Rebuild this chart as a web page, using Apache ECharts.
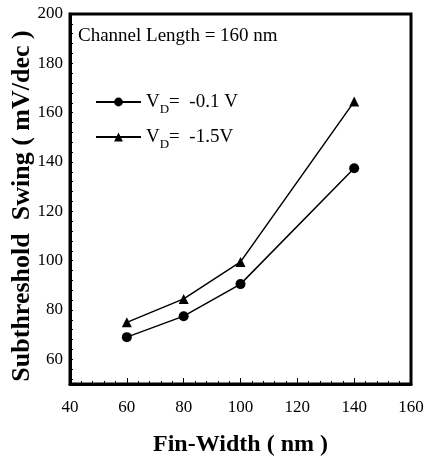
<!DOCTYPE html>
<html>
<head>
<meta charset="utf-8">
<script src="https://cdn.jsdelivr.net/npm/echarts@6/dist/echarts.min.js"></script>
<style>
  html, body { margin: 0; padding: 0; background: #fff; }
  #chart { width: 428px; height: 459px; }
</style>
</head>
<body>
<div id="chart"></div>
<script>
// subthreshold swing vs fin width

var finWidth = [60, 80, 100, 140];
var swingLowVd = [69, 77.5, 90.5, 137.5];   // VD = -0.1 V
var swingHighVd = [75, 84.5, 99.5, 164.5];  // VD = -1.5 V
var seriesNames = ['VD= -0.1 V', 'VD= -1.5V'];
var legendText = {
    'VD= -0.1 V': '=  -0.1 V',
    'VD= -1.5V': '=  -1.5V'
};

var serif = 'Liberation Serif';

function pairs(xs, ys) {
    return xs.map(function (x, i) { return [x, ys[i]]; });
}

var myChart = echarts.init(document.getElementById('chart'));

// plot spans y 50..200 over 370px; second grid starts at 52 so minor ticks fall on 52,56,...,200
var plotH = 459 - 14 - 75;
var tickGridBottom = 75 + 2 * plotH / 150;

var option = {
    animation: false,
    backgroundColor: '#fff',
    title: {
        text: 'Channel Length = 160 nm',
        left: 73,
        top: 22,
        textStyle: {
            fontFamily: serif,
            fontSize: 19,
            fontWeight: 'normal',
            color: '#000'
        }
    },
    legend: {
        orient: 'vertical',
        left: 90,
        top: 88,
        itemWidth: 45,
        itemHeight: 11,
        itemGap: 12,
        data: seriesNames,
        formatter: function (name) {
            return '{v|V}{sub|D}{v|' + legendText[name] + '}';
        },
        textStyle: {
            fontFamily: serif,
            color: '#000',
            rich: {
                v: { fontFamily: serif, fontSize: 19, color: '#000', lineHeight: 20, verticalAlign: 'bottom' },
                sub: { fontFamily: serif, fontSize: 13, color: '#000', lineHeight: 20, verticalAlign: 'bottom', padding: [0, 0, -4, 0] }
            }
        }
    },
    grid: [
        {
            left: 70, right: 17, top: 14, bottom: 75,
            outerBoundsMode: 'none',
            containLabel: false,
            show: true,
            borderColor: '#000',
            borderWidth: 3
        },
        {
            left: 70, right: 17, top: 14, bottom: tickGridBottom,
            outerBoundsMode: 'none',
            containLabel: false,
            show: false
        }
    ],
    xAxis: [
        {
            type: 'value',
            gridIndex: 0,
            min: 40,
            max: 160,
            interval: 20,
            name: 'Fin-Width ( nm )',
            nameLocation: 'middle',
            nameGap: 49,
            nameMoveOverlap: false,
            nameTextStyle: {
                fontFamily: serif,
                fontSize: 24,
                fontWeight: 'bold',
                color: '#000'
            },
            axisLine: { lineStyle: { color: '#000', width: 3 } },
            axisTick: { inside: true, length: 6, lineStyle: { color: '#000', width: 1 } },
            minorTick: { show: true, splitNumber: 5, length: 3, lineStyle: { color: '#000', width: 1 } },
            axisLabel: {
                margin: 15,
                fontFamily: serif,
                fontSize: 17,
                color: '#000'
            },
            splitLine: { show: false }
        },
        {
            type: 'value',
            gridIndex: 1,
            min: 40,
            max: 160,
            show: false
        }
    ],
    yAxis: [
        {
            type: 'value',
            gridIndex: 0,
            min: 50,
            max: 200,
            interval: 10,
            name: 'Subthreshold  Swing ( mV/dec )',
            nameLocation: 'middle',
            nameGap: 35,
            nameMoveOverlap: false,
            nameTextStyle: {
                fontFamily: serif,
                fontSize: 26,
                fontWeight: 'bold',
                color: '#000',
                padding: [0, 14, 0, 0]
            },
            axisLine: { lineStyle: { color: '#000', width: 3 } },
            axisTick: { show: false },
            axisLabel: {
                margin: 7,
                fontFamily: serif,
                fontSize: 17,
                color: '#000',
                formatter: function (v) {
                    return (v >= 60 && v % 20 === 0) ? String(v) : '';
                }
            },
            splitLine: { show: false }
        },
        {
            type: 'value',
            gridIndex: 1,
            min: 52,
            max: 200,
            interval: 4,
            axisLine: { show: false },
            axisTick: { inside: true, length: 3, lineStyle: { color: '#000', width: 1 } },
            axisLabel: { show: false },
            splitLine: { show: false }
        }
    ],
    series: [
        {
            name: seriesNames[0],
            type: 'line',
            xAxisIndex: 0,
            yAxisIndex: 0,
            data: pairs(finWidth, swingLowVd),
            symbol: 'circle',
            symbolSize: 10,
            itemStyle: { color: '#000' },
            lineStyle: { color: '#000', width: 1.5 }
        },
        {
            name: seriesNames[1],
            type: 'line',
            xAxisIndex: 0,
            yAxisIndex: 0,
            data: pairs(finWidth, swingHighVd),
            symbol: 'triangle',
            symbolSize: 10,
            itemStyle: { color: '#000' },
            lineStyle: { color: '#000', width: 1.5 }
        }
    ]
};

myChart.setOption(option);
</script>
</body>
</html>
